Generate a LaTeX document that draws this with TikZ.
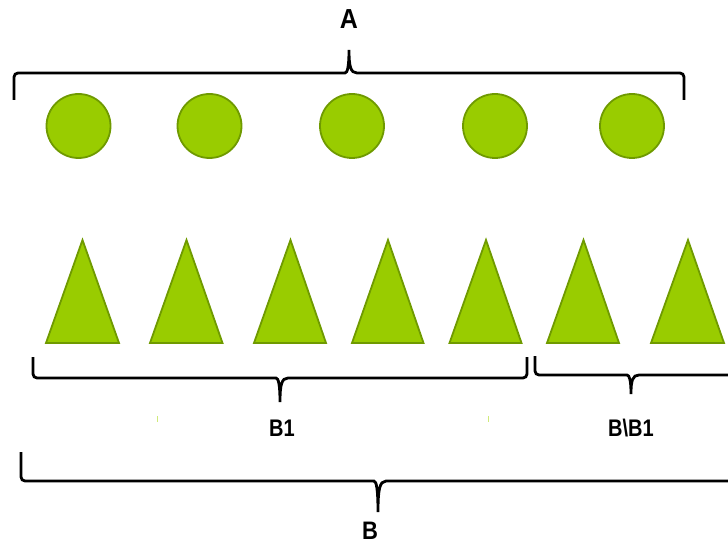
\documentclass[tikz,border=0pt]{standalone}
\usepackage{fontspec}
\setmainfont{Liberation Sans}
\definecolor{leaf}{HTML}{99CC00}
\definecolor{leafedge}{HTML}{6F9A00}
\definecolor{speck}{HTML}{CFEA7A}
\tikzset{
  dot/.style={circle, draw=leafedge, fill=leaf, line width=1.8pt, minimum size=64pt, inner sep=0pt},
  spike/.style={draw=leafedge, fill=leaf, line width=1.8pt, line join=miter},
  brace/.style={draw=black, line width=2.8pt, line cap=butt},
  lbl/.style={font=\bfseries, inner sep=0pt}
}
% horizontal curly brace: x-left, x-right, x-tip, y-ends, y-bar, y-tip
\newcommand\hbrace[6]{%
  \draw[brace, rounded corners=4pt] (#1,#4) -- (#1,#5) -- ({#3-8},#5)
    [sharp corners] .. controls ({#3-1.5},#5) and (#3,{#5+0.3*(#6-#5)}) .. (#3,#6)
    .. controls (#3,{#5+0.3*(#6-#5)}) and ({#3+1.5},#5) .. ({#3+8},#5)
    [rounded corners=4pt] -- (#2,#5) -- (#2,#4);}
% upward-pointing triangle: x-left, x-right, x-apex
\newcommand\spikeat[3]{%
  \draw[spike] (#1,343) -- (#3,240) -- (#2,343) -- cycle;}
\begin{document}
\begin{tikzpicture}[x=1pt, y=-1pt]
  \useasboundingbox (0,0) rectangle (728,545);

  % set A
  \node[dot] (a1) at (78.5,126) {};
  \node[dot] (a2) at (209.5,126) {};
  \node[dot] (a3) at (352,126) {};
  \node[dot] (a4) at (495,126) {};
  \node[dot] (a5) at (632,126) {};
  \hbrace{14}{684}{349}{100}{73}{50}
  \node[lbl, font=\bfseries\fontsize{25}{25}\selectfont, yscale=1.1] (labA) at (349,19) {A};

  % set B
  \spikeat{46}{119}{82.5}
  \spikeat{150}{222.5}{186.5}
  \spikeat{254}{326}{290.5}
  \spikeat{352}{423.5}{388}
  \spikeat{449.5}{521.5}{486}
  \spikeat{547}{619}{583.5}
  \spikeat{651}{724}{688}

  % subset B1 and its complement
  \hbrace{33}{527}{280}{357}{378}{402}
  \hbrace{535}{735}{631}{356}{375}{394}
  \node[lbl, font=\bfseries\fontsize{20}{20}\selectfont, yscale=1.2] (labB1) at (282,428.5) {B1};
  \node[lbl, font=\bfseries\fontsize{20}{20}\selectfont, yscale=1.2] (labBB1) at (631,428.5) {B\textbackslash B1};
  \draw[speck, line width=1pt] (157.5,416) -- (157.5,422);
  \draw[speck, line width=1pt] (488.5,416) -- (488.5,422);

  % all of B
  \hbrace{21}{740}{378}{452}{481}{512}
  \node[lbl, font=\bfseries\fontsize{22}{22}\selectfont, yscale=1.15] (labB) at (370,531) {B};
\end{tikzpicture}
\end{document}
